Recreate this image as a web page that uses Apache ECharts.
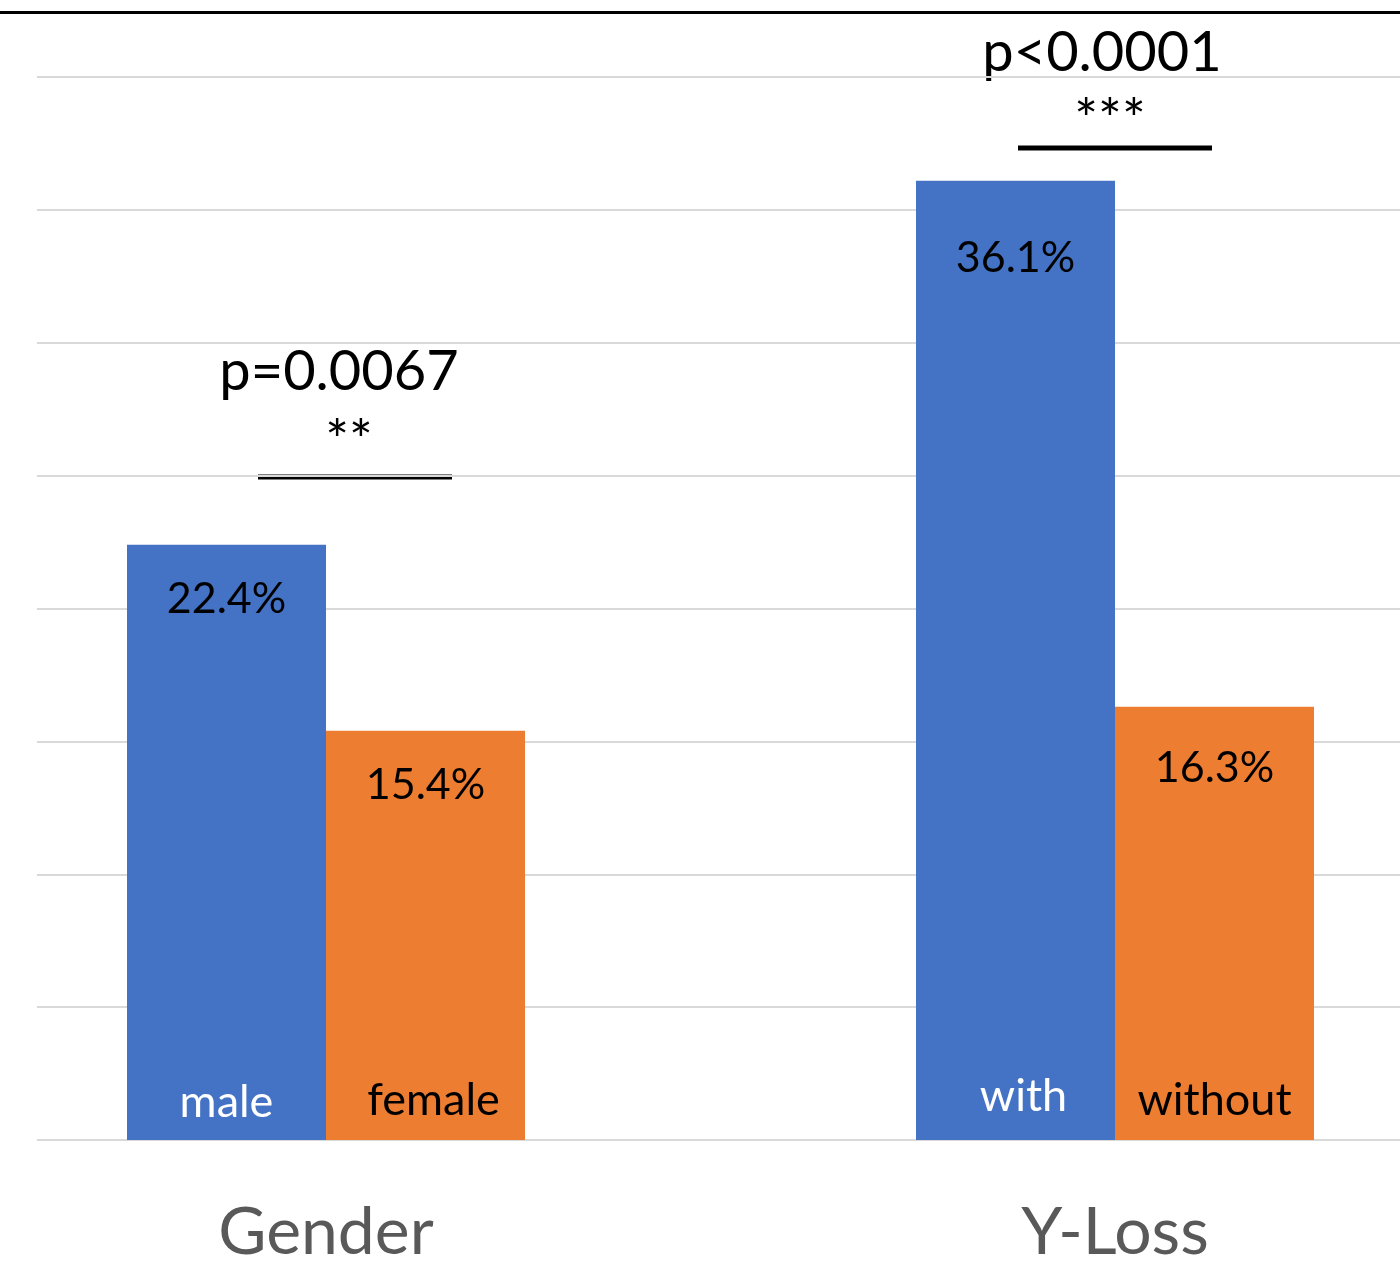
<!DOCTYPE html>
<html>
<head>
<meta charset="utf-8">
<script src="https://cdn.jsdelivr.net/npm/echarts@6/dist/echarts.min.js"></script>
<style>
html,body{margin:0;padding:0;background:#fff;}
#chart{width:1400px;height:1267px;}
</style>
</head>
<body>
<div id="chart"></div>
<script>
// ---- data ----
const categories = ['Gender', 'Y-Loss'];
const blueValues = [22.4, 36.1];
const orangeValues = [15.4, 16.3];
const blueNames = ['male', 'with'];
const orangeNames = ['female', 'without'];
const pTexts = ['p=0.0067', 'p<0.0001'];
const starTexts = ['**', '***'];
const yMin = 0, yMax = 40, yInterval = 5;

// ---- styles ----
const FONT = 'Lato, "Open Sans", sans-serif';
const BLUE = '#4472C4';
const ORANGE = '#ED7D31';
const blueValueDist = [33, 56];
const orangeValueDist = [33, 40];
const blueNameOffset = [[0, 2], [8, -4]];
const orangeNameOffset = [[8, 0], [0, 0]];

const chart = echarts.init(document.getElementById('chart'), null, {renderer: 'canvas'});

function valueData(vals, dists) {
  return vals.map((v, i) => ({value: v, label: {distance: dists[i]}}));
}
function nameData(vals, names, offs) {
  return vals.map((v, i) => ({value: v, name: names[i], label: {offset: offs[i]}}));
}

const option = {
  animation: false,
  backgroundColor: '#fff',
  grid: [
    {left: 37, right: 0, top: 77, bottom: 127, outerBoundsMode: 'none', containLabel: false},
    {left: -68.5, width: 1578, top: 77, bottom: 127, outerBoundsMode: 'none', containLabel: false}
  ],
  xAxis: [
    {type: 'value', gridIndex: 0, show: false, min: 0, max: 1},
    {type: 'category', gridIndex: 1, data: categories,
      axisLine: {show: false}, axisTick: {show: false},
      axisLabel: {fontFamily: FONT, fontSize: 66, color: '#595959', margin: 60}},
    {type: 'category', gridIndex: 1, data: categories, show: false}
  ],
  yAxis: [
    {type: 'value', gridIndex: 0, min: yMin, max: yMax, interval: yInterval,
      axisLine: {show: false}, axisTick: {show: false}, axisLabel: {show: false},
      splitLine: {show: true, lineStyle: {color: '#D9D9D9', width: 2}}},
    {type: 'value', gridIndex: 1, min: yMin, max: yMax, interval: yInterval, show: false,
      splitLine: {show: false}}
  ],
  series: [
    {type: 'bar', xAxisIndex: 1, yAxisIndex: 1, barWidth: 199, barGap: '0%',
      itemStyle: {color: BLUE},
      label: {show: true, position: 'insideTop', formatter: '{c}%', fontFamily: FONT, fontSize: 43, color: '#000'},
      data: valueData(blueValues, blueValueDist)},
    {type: 'bar', xAxisIndex: 1, yAxisIndex: 1, barWidth: 199, barGap: '0%',
      itemStyle: {color: ORANGE},
      label: {show: true, position: 'insideTop', formatter: '{c}%', fontFamily: FONT, fontSize: 43, color: '#000'},
      data: valueData(orangeValues, orangeValueDist)},
    {type: 'bar', xAxisIndex: 2, yAxisIndex: 1, barWidth: 199, barGap: '0%', silent: true,
      itemStyle: {color: 'rgba(0,0,0,0)'},
      label: {show: true, position: 'insideBottom', distance: 17, formatter: p => p.data.name, fontFamily: FONT, fontSize: 45, color: '#fff'},
      data: nameData(blueValues, blueNames, blueNameOffset)},
    {type: 'bar', xAxisIndex: 2, yAxisIndex: 1, barWidth: 199, barGap: '0%', silent: true,
      itemStyle: {color: 'rgba(0,0,0,0)'},
      label: {show: true, position: 'insideBottom', distance: 17, formatter: p => p.data.name, fontFamily: FONT, fontSize: 45, color: '#000'},
      data: nameData(orangeValues, orangeNames, orangeNameOffset)}
  ],
  graphic: [
    {type: 'line', shape: {x1: 0, y1: 12.5, x2: 1400, y2: 12.5}, style: {stroke: '#000', lineWidth: 3}},
    {type: 'text', x: 339, y: 372, style: {text: pTexts[0], fontFamily: FONT, fontSize: 56, fill: '#000', textAlign: 'center', textVerticalAlign: 'middle'}},
    {type: 'text', x: 349, y: 442, style: {text: starTexts[0], fontFamily: FONT, fontSize: 56, fill: '#000', textAlign: 'center', textVerticalAlign: 'middle'}},
    {type: 'line', shape: {x1: 258, y1: 477, x2: 452, y2: 477}, style: {stroke: '#000', lineWidth: 5}},
    {type: 'text', x: 1102, y: 53, style: {text: pTexts[1], fontFamily: FONT, fontSize: 56, fill: '#000', textAlign: 'center', textVerticalAlign: 'middle'}},
    {type: 'text', x: 1110, y: 121, style: {text: starTexts[1], fontFamily: FONT, fontSize: 56, fill: '#000', textAlign: 'center', textVerticalAlign: 'middle'}},
    {type: 'line', shape: {x1: 1018, y1: 148, x2: 1212, y2: 148}, style: {stroke: '#000', lineWidth: 5}}
  ]
};
chart.setOption(option);
</script>
</body>
</html>
